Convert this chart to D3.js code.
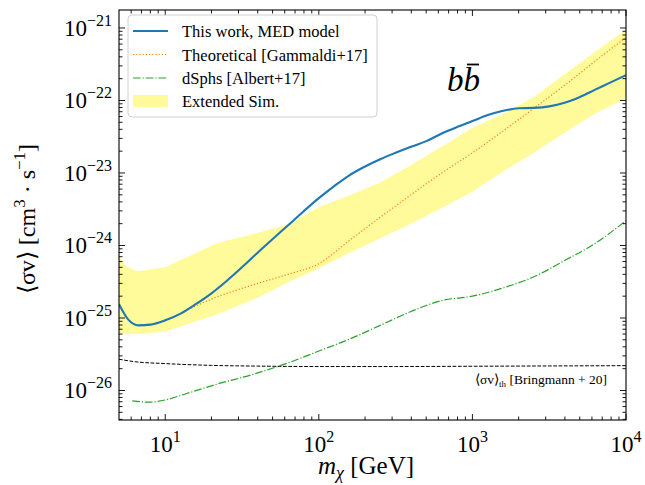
<!DOCTYPE html>
<html>
<head>
<meta charset="utf-8">
<script src="https://cdn.jsdelivr.net/npm/d3@7"></script>
<style>
  html, body { margin: 0; padding: 0; background: #fff; }
  svg { display: block; }
  text { font-family: "Liberation Serif", "Times New Roman", serif; fill: #000; }
</style>
</head>
<body>
<svg id="chart" width="645" height="485"></svg>
<script>
// ---------------- DATA ----------------
const medMass  = [5, 5.75, 6.7, 8, 10, 12.6, 15.8, 20, 25.1, 31.6, 39.8, 50.1, 63.1, 79.4, 100, 126, 158, 200, 251, 316, 398, 501, 631, 794, 1000, 1259, 1585, 1995, 2512, 3162, 3981, 5012, 6310, 7943, 10000];
const medValue = [1.55e-25, 9.5e-26, 7.9e-26, 8.1e-26, 9.3e-26, 1.15e-25, 1.55e-25, 2.19e-25, 3.24e-25, 5.0e-25, 7.9e-25, 1.23e-24, 1.9e-24, 2.95e-24, 4.5e-24, 6.6e-24, 9.3e-24, 1.23e-23, 1.55e-23, 1.9e-23, 2.3e-23, 2.75e-23, 3.5e-23, 4.3e-23, 5.2e-23, 6.3e-23, 7.2e-23, 7.8e-23, 7.9e-23, 8.3e-23, 9.3e-23, 1.12e-22, 1.41e-22, 1.78e-22, 2.24e-22];

const theoMass  = [10, 20, 40, 63, 100, 158, 251, 398, 631, 1000, 1585, 2512, 3981, 6310, 10000];
const theoValue = [9.1e-26, 1.82e-25, 3.0e-25, 4.0e-25, 5.6e-25, 1.17e-24, 2.45e-24, 5.0e-24, 1.0e-23, 1.9e-23, 3.8e-23, 7.8e-23, 1.62e-22, 3.5e-22, 7.4e-22];

const dsphMass  = [6.1, 7.8, 10, 13.8, 21.9, 35.5, 63, 100, 158, 251, 398, 631, 1000, 1585, 2512, 3981, 6310, 10000];
const dsphValue = [7.2e-27, 6.9e-27, 7.4e-27, 9.1e-27, 1.23e-26, 1.62e-26, 2.4e-26, 3.5e-26, 5.1e-26, 7.9e-26, 1.23e-25, 1.74e-25, 2.0e-25, 2.6e-25, 3.7e-25, 6.2e-25, 1.07e-24, 2.2e-24];

const bandMass  = [5, 5.6, 6.6, 10, 21.6, 40, 65, 100, 158, 251, 398, 631, 1000, 1585, 2512, 3981, 6310, 10000];
const bandUpper = [7.1e-25, 5.1e-25, 4.4e-25, 5.0e-25, 1.07e-24, 1.5e-24, 2.0e-24, 3.4e-24, 4.9e-24, 7.4e-24, 1.29e-23, 2.3e-23, 4.2e-23, 6.5e-23, 1.12e-22, 2.3e-22, 4.7e-22, 9.5e-22];
const bandLower = [6.3e-26, 5.9e-26, 6.0e-26, 6.5e-26, 1.12e-25, 1.9e-25, 3.2e-25, 4.8e-25, 7.9e-25, 1.26e-24, 2.0e-24, 3.3e-24, 5.5e-24, 1.05e-23, 1.9e-23, 3.6e-23, 6.6e-23, 1.07e-22];

const thermMass  = [5, 6.3, 10, 20, 40, 100, 316, 1000, 3162, 10000];
const thermValue = [2.7e-26, 2.5e-26, 2.35e-26, 2.22e-26, 2.17e-26, 2.14e-26, 2.14e-26, 2.16e-26, 2.18e-26, 2.2e-26];

const xTickValues = [10, 100, 1000, 10000];
const xTickExps   = ["1", "2", "3", "4"];
const yTickValues = [1e-26, 1e-25, 1e-24, 1e-23, 1e-22, 1e-21];
const yTickExps   = ["\u221226", "\u221225", "\u221224", "\u221223", "\u221222", "\u221221"];

const legendLabels = ["This work, MED model", "Theoretical [Gammaldi+17]", "dSphs [Albert+17]", "Extended Sim."];

// ---------------- LAYOUT ----------------
const L = 119, R = 626, T = 10, B = 420;
const svg = d3.select("#chart");

const x = d3.scaleLog().domain([5, 1e4]).range([L, R]);
const y = d3.scaleLog().domain([Math.pow(10, -26.407), Math.pow(10, -20.752)]).range([B, T]);

svg.append("defs").append("clipPath").attr("id", "clip")
  .append("rect").attr("x", L).attr("y", T).attr("width", R - L).attr("height", B - T);

const plot = svg.append("g").attr("clip-path", "url(#clip)");

// band
const band = bandMass.map((m, i) => ({m, lo: bandLower[i], hi: bandUpper[i]}));
plot.append("path").datum(band)
  .attr("d", d3.area().x(d => x(d.m)).y0(d => y(d.lo)).y1(d => y(d.hi)))
  .attr("fill", "#fffb9b").attr("stroke", "none");

function zip(ms, vs) { return ms.map((m, i) => ({m, v: vs[i]})); }
const lineGen = d3.line().x(d => x(d.m)).y(d => y(d.v)).curve(d3.curveMonotoneX);

// thermal relic
plot.append("path").datum(zip(thermMass, thermValue)).attr("d", lineGen)
  .attr("fill", "none").attr("stroke", "#000").attr("stroke-width", 1)
  .attr("stroke-dasharray", "3.7,1.6");

// dSphs
plot.append("path").datum(zip(dsphMass, dsphValue)).attr("d", lineGen)
  .attr("fill", "none").attr("stroke", "#2ca02c").attr("stroke-width", 1.2)
  .attr("stroke-dasharray", "7.7,1.9,1.2,1.9");

// theoretical
plot.append("path").datum(zip(theoMass, theoValue)).attr("d", lineGen)
  .attr("fill", "none").attr("stroke", "#ff7f0e").attr("stroke-width", 1.2)
  .attr("stroke-dasharray", "1.2,2");

// MED model
plot.append("path").datum(zip(medMass, medValue)).attr("d", lineGen)
  .attr("fill", "none").attr("stroke", "#1f77b4").attr("stroke-width", 2.1);

// ---------------- AXES ----------------
const axisG = svg.append("g");
const majLen = 6, minLen = 3.5;

// x ticks
const xMinor = [];
for (let d = 0; d <= 3; d++) for (let k = 2; k <= 9; k++) {
  const v = k * Math.pow(10, d);
  if (v > 5 && v < 1e4) xMinor.push(v);
}
xMinor.concat(xTickValues).forEach(v => {
  const len = xTickValues.includes(v) ? majLen : minLen;
  const px = x(v);
  axisG.append("line").attr("x1", px).attr("x2", px).attr("y1", B).attr("y2", B - len).attr("stroke", "#000").attr("stroke-width", 0.9);
  axisG.append("line").attr("x1", px).attr("x2", px).attr("y1", T).attr("y2", T + len).attr("stroke", "#000").attr("stroke-width", 0.9);
});

// y ticks
const yMinor = [];
for (let d = -27; d <= -21; d++) for (let k = 2; k <= 9; k++) {
  const v = k * Math.pow(10, d);
  if (v > y.domain()[0] && v < y.domain()[1]) yMinor.push(v);
}
yMinor.concat(yTickValues).forEach(v => {
  const len = yTickValues.includes(v) ? majLen : minLen;
  const py = y(v);
  axisG.append("line").attr("x1", L).attr("x2", L + len).attr("y1", py).attr("y2", py).attr("stroke", "#000").attr("stroke-width", 0.9);
  axisG.append("line").attr("x1", R).attr("x2", R - len).attr("y1", py).attr("y2", py).attr("stroke", "#000").attr("stroke-width", 0.9);
});

// frame
axisG.append("rect").attr("x", L).attr("y", T).attr("width", R - L).attr("height", B - T)
  .attr("fill", "none").attr("stroke", "#000").attr("stroke-width", 1.1);

// x tick labels
xTickValues.forEach((v, i) => {
  const t = svg.append("text").attr("x", x(v)).attr("y", 452).attr("text-anchor", "middle");
  t.append("tspan").attr("font-size", 23).text("10");
  t.append("tspan").attr("font-size", 16).attr("dy", -10).text(xTickExps[i]);
});

// y tick labels
yTickValues.forEach((v, i) => {
  const t = svg.append("text").attr("x", 112).attr("y", y(v) + 8).attr("text-anchor", "end");
  t.append("tspan").attr("font-size", 23).text("10");
  t.append("tspan").attr("font-size", 16).attr("dy", -10).text(yTickExps[i]);
});

// axis labels
const xl = svg.append("text").attr("x", 366).attr("y", 474).attr("text-anchor", "middle").attr("font-size", 25);
xl.append("tspan").attr("font-style", "italic").text("m");
xl.append("tspan").attr("font-style", "italic").attr("font-size", 18).attr("dy", 5).text("\u03c7");
xl.append("tspan").attr("dy", -5).text(" [GeV]");

const yl = svg.append("text").attr("transform", "translate(35,219) rotate(-90)").attr("text-anchor", "middle").attr("font-size", 24);
yl.append("tspan").text("\u27e8\u03c3v\u27e9 [cm");
yl.append("tspan").attr("font-size", 17).attr("dy", -10).text("3");
yl.append("tspan").attr("dy", 10).text(" \u00b7 s");
yl.append("tspan").attr("font-size", 17).attr("dy", -10).text("\u22121");
yl.append("tspan").attr("dy", 10).text("]");

// b bbar label
const bb = svg.append("text").attr("x", 447).attr("y", 91).attr("font-size", 33).attr("font-style", "italic");
bb.text("bb");
svg.append("line").attr("x1", 467).attr("x2", 479).attr("y1", 64.5).attr("y2", 64.5).attr("stroke", "#000").attr("stroke-width", 1.8);

// thermal annotation
const ta = svg.append("text").attr("x", 607).attr("y", 384).attr("text-anchor", "end").attr("font-size", 13.5);
ta.append("tspan").text("\u27e8\u03c3v\u27e9");
ta.append("tspan").attr("font-size", 9).attr("dy", 3).text("th");
ta.append("tspan").attr("dy", -3).text(" [Bringmann + 20]");

// ---------------- LEGEND ----------------
const lg = svg.append("g");
lg.append("rect").attr("x", 128).attr("y", 15).attr("width", 249).attr("height", 102).attr("rx", 4)
  .attr("fill", "#fff").attr("fill-opacity", 0.8).attr("stroke", "#d0d0d0").attr("stroke-width", 1);
const rowY = [31, 54.5, 78, 101];
const styles = [
  {stroke: "#1f77b4", w: 2.1, dash: null},
  {stroke: "#ff7f0e", w: 1.2, dash: "1.2,2"},
  {stroke: "#2ca02c", w: 1.2, dash: "7.7,1.9,1.2,1.9"}
];
styles.forEach((s, i) => {
  const ln = lg.append("line").attr("x1", 133).attr("x2", 168).attr("y1", rowY[i]).attr("y2", rowY[i])
    .attr("stroke", s.stroke).attr("stroke-width", s.w);
  if (s.dash) ln.attr("stroke-dasharray", s.dash);
});
lg.append("rect").attr("x", 133).attr("y", 95).attr("width", 35).attr("height", 12).attr("fill", "#fffb9b");
legendLabels.forEach((t, i) => {
  lg.append("text").attr("x", 182).attr("y", rowY[i] + 6).attr("font-size", 16.5).text(t);
});
</script>
</body>
</html>
